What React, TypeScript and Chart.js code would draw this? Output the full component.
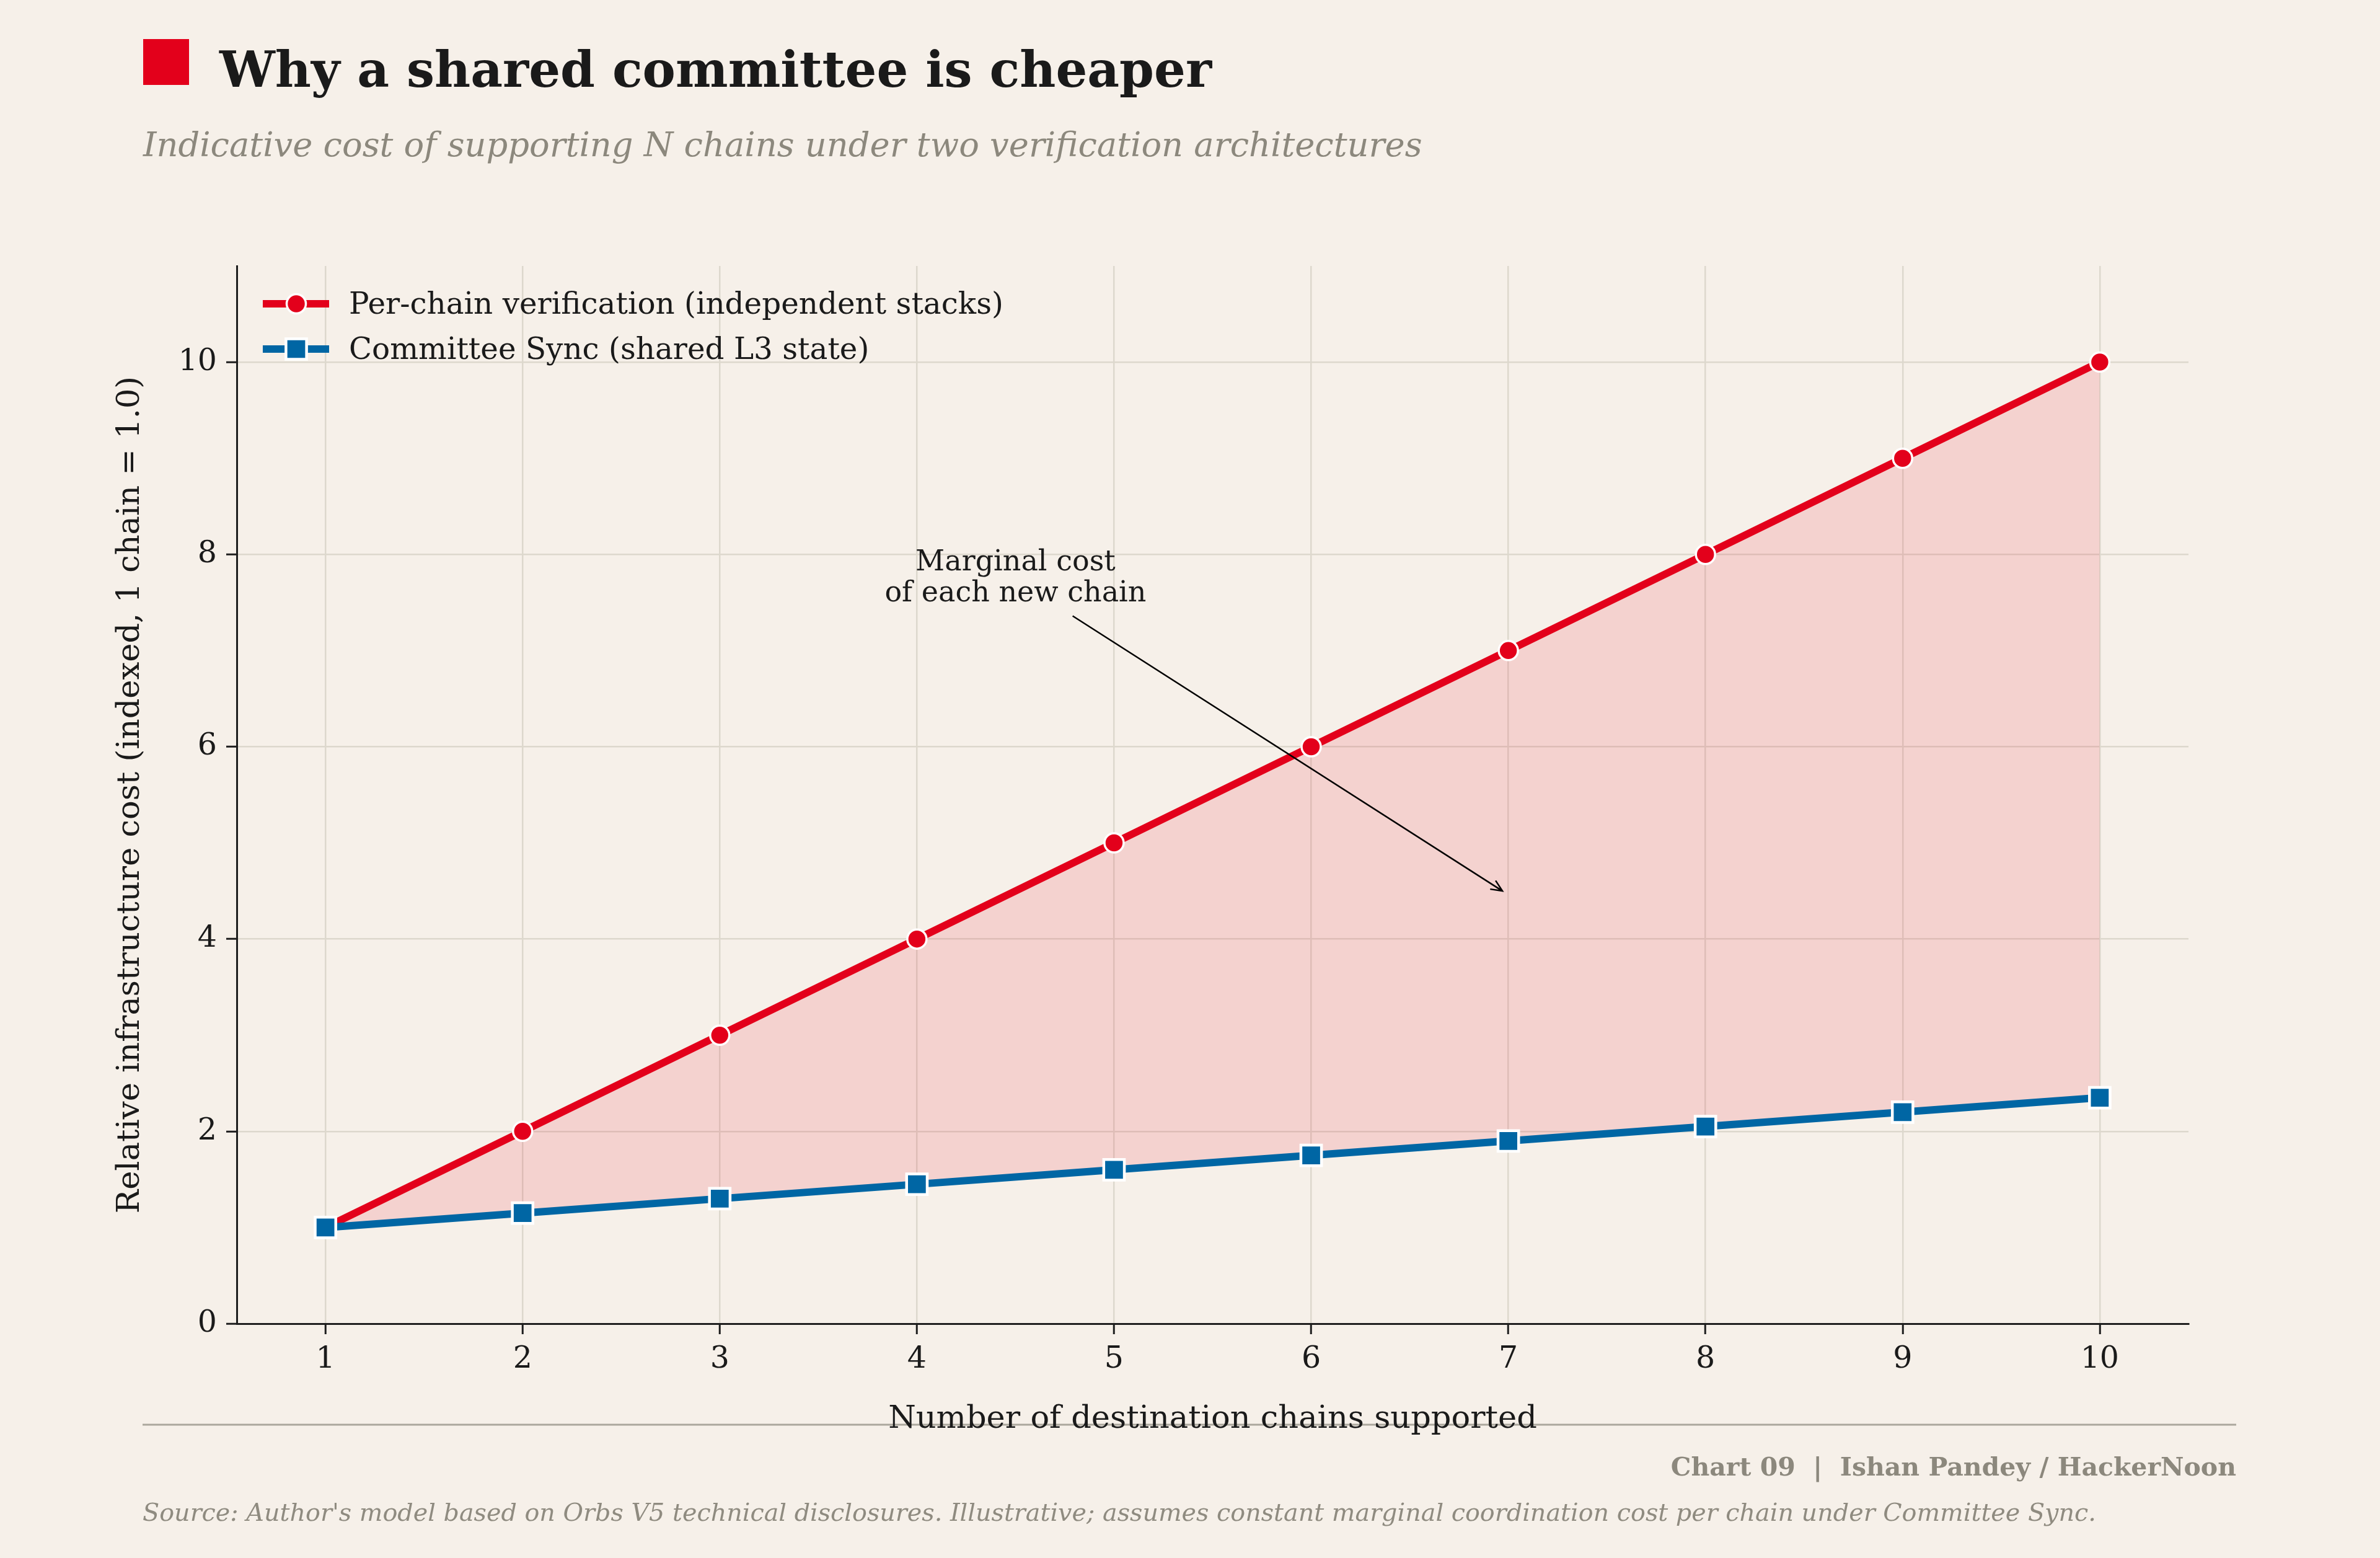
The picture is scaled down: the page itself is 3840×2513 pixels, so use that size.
import React, { useEffect, useRef } from 'react';
import { Chart, registerables } from 'chart.js';

Chart.register(...registerables);

// ---- data ----
const chainCounts = [1, 2, 3, 4, 5, 6, 7, 8, 9, 10];
const perChainCost = [1, 2, 3, 4, 5, 6, 7, 8, 9, 10];
const committeeCost = [1, 1.15, 1.3, 1.45, 1.6, 1.75, 1.9, 2.05, 2.2, 2.35];
const seriesNames = ['Per-chain verification (independent stacks)', 'Committee Sync (shared L3 state)'];
const xTicks = [1, 2, 3, 4, 5, 6, 7, 8, 9, 10];
const yTicks = [0, 2, 4, 6, 8, 10];
const xRange = [0.55, 10.45];
const yRange = [0, 11];

const titleText = 'Why a shared committee is cheaper';
const subtitleText = 'Indicative cost of supporting N chains under two verification architectures';
const xAxisTitle = 'Number of destination chains supported';
const yAxisTitle = 'Relative infrastructure cost (indexed, 1 chain = 1.0)';
const creditText = 'Chart 09  |  Ishan Pandey / HackerNoon';
const sourceText =
  "Source: Author's model based on Orbs V5 technical disclosures. Illustrative; assumes constant marginal coordination cost per chain under Committee Sync.";

const annotationLines = ['Marginal cost', 'of each new chain'];
const annotationAt = { x: 4.5, y: 7.672 };
const arrowFrom = { x: 4.79, y: 7.36 };
const arrowTo = { x: 6.97, y: 4.5 };

// ---- style ----
const FONT = '"DejaVu Serif", serif';
const BG = '#F6F0E9';
const RED = '#E3001B';
const BLUE = '#0066A4';
const INK = '#1A1A1A';
const MUTED = '#8C887D';
const GRID = '#DDD8CD';
const AXIS = '#1E1E1E';

const W = 3840;
const H = 2513;

const decorPlugin = {
  id: 'decor',
  beforeDraw(chart: any) {
    const { ctx } = chart;
    ctx.save();
    ctx.fillStyle = BG;
    ctx.fillRect(0, 0, chart.width, chart.height);
    // footer rule
    ctx.strokeStyle = '#ABA79D';
    ctx.lineWidth = 3;
    ctx.beginPath();
    ctx.moveTo(230, 2298);
    ctx.lineTo(3608, 2298);
    ctx.stroke();
    ctx.restore();
  },
  afterDraw(chart: any) {
    const { ctx, scales } = chart;
    const xs = scales.x;
    const ys = scales.y;
    ctx.save();

    // title block
    ctx.fillStyle = RED;
    ctx.fillRect(231, 63, 74, 74);
    ctx.fillStyle = INK;
    ctx.textAlign = 'left';
    ctx.textBaseline = 'alphabetic';
    ctx.font = `bold 80px ${FONT}`;
    ctx.fillText(titleText, 354, 140);
    ctx.fillStyle = MUTED;
    ctx.font = `italic 54.3px ${FONT}`;
    ctx.fillText(subtitleText, 231, 252);

    // footer
    ctx.textAlign = 'right';
    ctx.font = `bold 41px ${FONT}`;
    ctx.fillStyle = MUTED;
    ctx.fillText(creditText, 3608, 2380);
    ctx.textAlign = 'left';
    ctx.font = `italic 39.7px ${FONT}`;
    ctx.fillStyle = '#8F8B80';
    ctx.fillText(sourceText, 230, 2453);

    // legend
    const sets = chart.data.datasets;
    const rows = [490, 563];
    sets.forEach((ds: any, i: number) => {
      const y = rows[i];
      ctx.strokeStyle = ds.borderColor;
      ctx.lineWidth = ds.borderWidth;
      ctx.beginPath();
      ctx.moveTo(424, y);
      ctx.lineTo(531, y);
      ctx.stroke();
      ctx.fillStyle = ds.pointBackgroundColor;
      ctx.strokeStyle = ds.pointBorderColor;
      ctx.lineWidth = ds.pointBorderWidth;
      ctx.beginPath();
      if (ds.pointStyle === 'rect') {
        const s = ds.pointRadius * Math.SQRT1_2;
        ctx.rect(478 - s, y - s, 2 * s, 2 * s);
      } else {
        ctx.arc(478, y, ds.pointRadius, 0, Math.PI * 2);
      }
      ctx.fill();
      ctx.stroke();
      ctx.fillStyle = INK;
      ctx.font = `48.4px ${FONT}`;
      ctx.textAlign = 'left';
      ctx.textBaseline = 'alphabetic';
      ctx.fillText(seriesNames[i], 563, y + 16);
    });

    // annotation
    const tx = xs.getPixelForValue(annotationAt.x);
    const ty = ys.getPixelForValue(annotationAt.y);
    ctx.fillStyle = INK;
    ctx.font = `46px ${FONT}`;
    ctx.textAlign = 'center';
    ctx.textBaseline = 'alphabetic';
    const lh = 50;
    annotationLines.forEach((t, i) => {
      ctx.fillText(t, tx, ty + (i - (annotationLines.length - 1) / 2) * lh);
    });
    const ax0 = xs.getPixelForValue(arrowFrom.x);
    const ay0 = ys.getPixelForValue(arrowFrom.y);
    const ax1 = xs.getPixelForValue(arrowTo.x);
    const ay1 = ys.getPixelForValue(arrowTo.y);
    ctx.strokeStyle = '#000';
    ctx.lineWidth = 2.5;
    ctx.beginPath();
    ctx.moveTo(ax0, ay0);
    ctx.lineTo(ax1, ay1);
    const ang = Math.atan2(ay1 - ay0, ax1 - ax0);
    const hl = 20;
    const spread = 0.42;
    ctx.moveTo(ax1 - hl * Math.cos(ang - spread), ay1 - hl * Math.sin(ang - spread));
    ctx.lineTo(ax1, ay1);
    ctx.lineTo(ax1 - hl * Math.cos(ang + spread), ay1 - hl * Math.sin(ang + spread));
    ctx.stroke();

    ctx.restore();
  },
};

export default function App() {
  const canvasRef = useRef<HTMLCanvasElement | null>(null);

  useEffect(() => {
    const canvas = canvasRef.current;
    if (!canvas) return;
    const chart = new Chart(canvas, {
      type: 'line',
      data: {
        datasets: [
          {
            label: seriesNames[0],
            data: chainCounts.map((x, i) => ({ x, y: perChainCost[i] })),
            borderColor: RED,
            borderWidth: 12,
            backgroundColor: 'rgba(227, 0, 27, 0.12)',
            fill: '+1',
            pointStyle: 'circle',
            pointRadius: 15.5,
            pointBackgroundColor: RED,
            pointBorderColor: '#FFFFFF',
            pointBorderWidth: 3.5,
            tension: 0,
            order: 2,
          },
          {
            label: seriesNames[1],
            data: chainCounts.map((x, i) => ({ x, y: committeeCost[i] })),
            borderColor: BLUE,
            borderWidth: 12,
            backgroundColor: 'rgba(0,0,0,0)',
            fill: false,
            pointStyle: 'rect',
            pointRadius: 23.5,
            pointBackgroundColor: BLUE,
            pointBorderColor: '#FFFFFF',
            pointBorderWidth: 4.5,
            tension: 0,
            order: 1,
          },
        ],
      },
      options: {
        responsive: false,
        animation: false,
        devicePixelRatio: 1,
        layout: { padding: { left: 100, top: 429, right: 309, bottom: 193 } },
        plugins: {
          legend: { display: false },
          tooltip: { enabled: false },
          title: { display: false },
        },
        scales: {
          x: {
            type: 'linear',
            min: xRange[0],
            max: xRange[1],
            afterBuildTicks: (s: any) => {
              s.ticks = xTicks.map((v) => ({ value: v }));
            },
            afterFit: (s: any) => {
              s.height = 185;
            },
            grid: { color: GRID, lineWidth: 2.5, tickColor: AXIS, tickLength: 17, tickWidth: 3 },
            border: { display: true, color: AXIS, width: 3 },
            ticks: {
              font: { family: FONT, size: 49 },
              color: INK,
              padding: 12,
              callback: (v: any) => String(v),
            },
            title: {
              display: true,
              text: xAxisTitle,
              font: { family: FONT, size: 51 },
              color: INK,
              padding: { top: 0, bottom: 0 },
            },
          },
          y: {
            type: 'linear',
            min: yRange[0],
            max: yRange[1],
            afterBuildTicks: (s: any) => {
              s.ticks = yTicks.map((v) => ({ value: v }));
            },
            afterFit: (s: any) => {
              s.width = 282;
            },
            grid: { color: GRID, lineWidth: 2.5, tickColor: AXIS, tickLength: 17, tickWidth: 3 },
            border: { display: true, color: AXIS, width: 3 },
            ticks: {
              font: { family: FONT, size: 49 },
              color: INK,
              padding: 15,
              callback: (v: any) => String(v),
            },
            title: {
              display: true,
              text: yAxisTitle,
              font: { family: FONT, size: 51 },
              color: INK,
              padding: { top: 80, bottom: 0 },
            },
          },
        },
      },
      plugins: [decorPlugin],
    });
    return () => chart.destroy();
  }, []);

  return (
    <div style={{ position: 'absolute', left: 0, top: 0, width: W, height: H, background: BG }}>
      <canvas ref={canvasRef} width={W} height={H} style={{ display: 'block', width: W, height: H }} />
    </div>
  );
}
